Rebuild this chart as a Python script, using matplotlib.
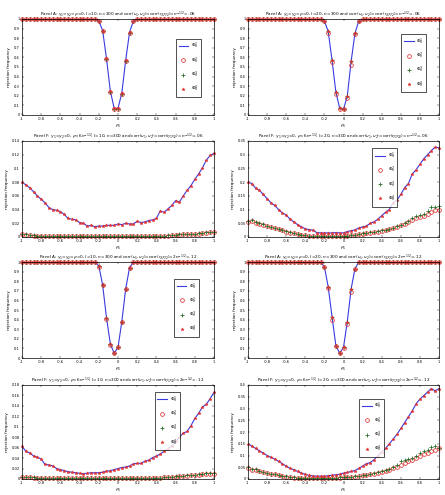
import numpy as np
import matplotlib
matplotlib.use("Agg")
import matplotlib.pyplot as plt

# grid of the x variable
rho1 = np.round(np.arange(-1, 1.0001, 0.04), 2)

# ---- Panel A data (power curves, flat at 1 away from 0) ----
a1_line = [1.0]*20 + [0.98, 0.88, 0.59, 0.25, 0.07, 0.07, 0.23, 0.57, 0.86, 0.98] + [1.0]*21
a1_circ = [1.0]*20 + [0.98, 0.87, 0.58, 0.24, 0.065, 0.065, 0.22, 0.56, 0.85, 0.98] + [1.0]*21
a2_line = [1.0]*20 + [0.98, 0.87, 0.57, 0.24, 0.07, 0.06, 0.20, 0.56, 0.85, 0.98] + [1.0]*21
a2_circ = [1.0]*20 + [0.98, 0.85, 0.55, 0.22, 0.065, 0.06, 0.18, 0.52, 0.84, 0.98] + [1.0]*21
a3_line = [1.0]*20 + [0.96, 0.76, 0.42, 0.15, 0.05, 0.11, 0.38, 0.72, 0.94, 1.0] + [1.0]*21
a3_circ = [1.0]*20 + [0.95, 0.76, 0.41, 0.14, 0.05, 0.11, 0.38, 0.72, 0.94, 1.0] + [1.0]*21
a4_line = [1.0]*20 + [0.95, 0.74, 0.43, 0.13, 0.05, 0.11, 0.38, 0.72, 0.93, 1.0] + [1.0]*21
a4_circ = [1.0]*20 + [0.95, 0.73, 0.40, 0.12, 0.05, 0.10, 0.35, 0.69, 0.93, 1.0] + [1.0]*21

# ---- Panel F data ----
f1_line = [0.080, 0.076, 0.072, 0.066, 0.060, 0.055, 0.050, 0.043, 0.040, 0.039,
           0.037, 0.033, 0.027, 0.026, 0.025, 0.021, 0.020, 0.016, 0.017, 0.015,
           0.016, 0.016, 0.017, 0.017, 0.017, 0.019, 0.018, 0.020, 0.019, 0.019,
           0.023, 0.021, 0.022, 0.024, 0.025, 0.027, 0.038, 0.036, 0.041, 0.046,
           0.053, 0.051, 0.060, 0.068, 0.075, 0.084, 0.092, 0.101, 0.112, 0.119,
           0.122]
f1_circ = [0.004, 0.003, 0.003, 0.002, 0.002, 0.002, 0.002, 0.001, 0.001, 0.001,
           0.001, 0.001, 0.001, 0.001, 0.001, 0.001, 0.001, 0.001, 0.001, 0.001,
           0.001, 0.001, 0.001, 0.001, 0.001, 0.001, 0.001, 0.001, 0.001, 0.001,
           0.001, 0.001, 0.001, 0.001, 0.001, 0.002, 0.002, 0.002, 0.002, 0.003,
           0.003, 0.003, 0.004, 0.004, 0.004, 0.005, 0.005, 0.006, 0.006, 0.007,
           0.007]
f1_plus = [0.005, 0.004, 0.003, 0.003, 0.002, 0.002, 0.002, 0.002, 0.001, 0.001,
           0.001, 0.001, 0.001, 0.001, 0.001, 0.001, 0.001, 0.001, 0.001, 0.001,
           0.001, 0.001, 0.001, 0.001, 0.001, 0.001, 0.001, 0.001, 0.001, 0.001,
           0.001, 0.001, 0.001, 0.002, 0.002, 0.002, 0.002, 0.002, 0.003, 0.003,
           0.003, 0.004, 0.004, 0.004, 0.005, 0.005, 0.006, 0.006, 0.007, 0.007,
           0.008]

f2_line = [0.200, 0.195, 0.178, 0.170, 0.155, 0.140, 0.125, 0.115, 0.100, 0.088,
           0.080, 0.065, 0.055, 0.045, 0.037, 0.030, 0.027, 0.025, 0.016, 0.015,
           0.015, 0.015, 0.015, 0.016, 0.015, 0.015, 0.020, 0.023, 0.026, 0.033,
           0.037, 0.040, 0.050, 0.055, 0.065, 0.078, 0.090, 0.100, 0.125, 0.135,
           0.155, 0.180, 0.195, 0.230, 0.245, 0.265, 0.285, 0.300, 0.315, 0.328,
           0.325]
f2_circ = [0.055, 0.060, 0.052, 0.048, 0.045, 0.040, 0.036, 0.032, 0.028, 0.024,
           0.020, 0.016, 0.013, 0.010, 0.008, 0.006, 0.005, 0.004, 0.004, 0.003,
           0.003, 0.003, 0.003, 0.003, 0.003, 0.004, 0.005, 0.006, 0.008, 0.010,
           0.012, 0.015, 0.016, 0.018, 0.020, 0.022, 0.025, 0.028, 0.032, 0.036,
           0.042, 0.048, 0.055, 0.062, 0.070, 0.072, 0.078, 0.085, 0.092, 0.100,
           0.100]
f2_plus = [0.060, 0.062, 0.055, 0.050, 0.046, 0.041, 0.037, 0.033, 0.029, 0.025,
           0.021, 0.017, 0.014, 0.011, 0.009, 0.007, 0.005, 0.005, 0.004, 0.004,
           0.003, 0.003, 0.003, 0.003, 0.004, 0.004, 0.005, 0.007, 0.009, 0.011,
           0.013, 0.016, 0.017, 0.019, 0.021, 0.024, 0.027, 0.030, 0.034, 0.039,
           0.045, 0.052, 0.060, 0.068, 0.078, 0.080, 0.085, 0.095, 0.108, 0.110,
           0.112]

f3_line = [0.063, 0.053, 0.050, 0.044, 0.042, 0.038, 0.028, 0.027, 0.025, 0.020,
           0.018, 0.016, 0.014, 0.013, 0.012, 0.011, 0.010, 0.011, 0.012, 0.012,
           0.012, 0.013, 0.015, 0.016, 0.018, 0.020, 0.022, 0.023, 0.025, 0.029,
           0.030, 0.030, 0.034, 0.036, 0.041, 0.044, 0.048, 0.053, 0.058, 0.064,
           0.072, 0.080, 0.088, 0.091, 0.102, 0.116, 0.126, 0.138, 0.143, 0.154,
           0.166]
f3_circ = [0.003, 0.003, 0.003, 0.002, 0.002, 0.002, 0.002, 0.001, 0.001, 0.001,
           0.001, 0.001, 0.001, 0.001, 0.001, 0.001, 0.001, 0.001, 0.001, 0.001,
           0.001, 0.001, 0.001, 0.001, 0.001, 0.001, 0.001, 0.001, 0.001, 0.001,
           0.001, 0.001, 0.001, 0.001, 0.001, 0.002, 0.002, 0.003, 0.003, 0.004,
           0.004, 0.005, 0.006, 0.006, 0.007, 0.008, 0.008, 0.009, 0.010, 0.010,
           0.010]
f3_plus = [0.004, 0.003, 0.003, 0.003, 0.002, 0.002, 0.002, 0.002, 0.001, 0.001,
           0.001, 0.001, 0.001, 0.001, 0.001, 0.001, 0.001, 0.001, 0.001, 0.001,
           0.001, 0.001, 0.001, 0.001, 0.001, 0.001, 0.001, 0.001, 0.001, 0.001,
           0.001, 0.001, 0.001, 0.001, 0.002, 0.002, 0.002, 0.003, 0.003, 0.004,
           0.005, 0.005, 0.006, 0.007, 0.008, 0.008, 0.009, 0.010, 0.011, 0.011,
           0.011]

f4_line = [0.150, 0.140, 0.130, 0.120, 0.110, 0.100, 0.092, 0.085, 0.075, 0.065,
           0.055, 0.045, 0.040, 0.032, 0.025, 0.020, 0.015, 0.013, 0.012, 0.012,
           0.012, 0.014, 0.016, 0.018, 0.020, 0.025, 0.028, 0.032, 0.036, 0.045,
           0.055, 0.065, 0.070, 0.082, 0.100, 0.115, 0.130, 0.150, 0.170, 0.190,
           0.215, 0.240, 0.265, 0.290, 0.320, 0.340, 0.355, 0.370, 0.385, 0.375,
           0.385]
f4_circ = [0.045, 0.040, 0.040, 0.035, 0.030, 0.025, 0.022, 0.020, 0.016, 0.013,
           0.010, 0.008, 0.006, 0.005, 0.004, 0.004, 0.004, 0.004, 0.004, 0.004,
           0.004, 0.005, 0.005, 0.006, 0.006, 0.007, 0.008, 0.009, 0.010, 0.012,
           0.015, 0.017, 0.020, 0.023, 0.026, 0.030, 0.035, 0.040, 0.045, 0.050,
           0.060, 0.070, 0.075, 0.082, 0.090, 0.100, 0.105, 0.110, 0.120, 0.125,
           0.130]
f4_plus = [0.050, 0.042, 0.041, 0.036, 0.031, 0.026, 0.023, 0.021, 0.017, 0.014,
           0.011, 0.009, 0.007, 0.006, 0.005, 0.004, 0.004, 0.004, 0.004, 0.004,
           0.005, 0.005, 0.006, 0.006, 0.007, 0.008, 0.009, 0.010, 0.011, 0.013,
           0.016, 0.018, 0.021, 0.025, 0.028, 0.033, 0.038, 0.044, 0.050, 0.058,
           0.075, 0.080, 0.085, 0.090, 0.100, 0.110, 0.120, 0.125, 0.135, 0.140,
           0.130]

labels = [r'$\Phi^1_n$', r'$\Phi^2_n$', r'$\Phi^3_n$', r'$\Phi^4_n$']

tA = r'Panel A: $\gamma_1\!=\!\gamma_2\!=\!\rho\!=\!0$, $l\!=\!%d$, $n\!=\!300$ and corr$(u_1,u_2)$=corr$(\eta_1\eta_2)\!=\!%s$'
tF = r'Panel F: $\gamma_1\!=\!\gamma_2\!=\!0$, $\rho\!=\!6n^{-1/2}$, $l\!=\!%d$, $n\!=\!300$ and corr$(u_1,u_2)$=corr$(\eta_1\eta_2)\!=\!%s$'
c06 = r'n^{-1/2}\!=\!.06'
c12 = r'2n^{-1/2}\!=\!.12'

# (title, line, circles, plus, stars, ylim, yticks, legend position or None)
panels = [
    (tA % (10, c06), a1_line, a1_circ, a1_circ, a1_line, 1.0, np.arange(0, 1.01, 0.1), (0.79, 0.82)),
    (tA % (20, c06), a2_line, a2_circ, a2_line, a2_line, 1.0, np.arange(0, 1.01, 0.1), (0.79, 0.87)),
    (tF % (10, c06), f1_line, f1_circ, f1_plus, f1_line, 0.14, np.arange(0, 0.141, 0.02), None),
    (tF % (20, c06), f2_line, f2_circ, f2_plus, f2_line, 0.35, np.arange(0, 0.351, 0.05), (0.64, 0.95)),
    (tA % (10, c12), a3_line, a3_circ, a3_line, a3_line, 1.0, np.arange(0, 1.01, 0.1), (0.78, 0.85)),
    (tA % (20, c12), a4_line, a4_circ, a4_line, a4_line, 1.0, np.arange(0, 1.01, 0.1), None),
    (tF % (10, c12), f3_line, f3_circ, f3_plus, f3_line, 0.18, np.arange(0, 0.181, 0.02), (0.68, 0.95)),
    (tF % (20, c12), f4_line, f4_circ, f4_plus, f4_line, 0.40, np.arange(0, 0.401, 0.05), (0.57, 0.88)),
]

W, H = 445.0, 495.0
cols = [(22, 214), (248, 439)]
rows = [(19, 115), (141, 237), (262, 358), (385, 479)]

plt.rcParams['font.family'] = 'DejaVu Sans'
plt.rcParams['mathtext.fontset'] = 'dejavusans'

fig = plt.figure(figsize=(W / 100, H / 100), dpi=100)

for k, (title, ln, circ, plus, star, ytop, yt, legpos) in enumerate(panels):
    r, c = divmod(k, 2)
    x0, x1 = cols[c]
    y0, y1 = rows[r]
    ax = fig.add_axes([x0 / W, 1 - y1 / H, (x1 - x0) / W, (y1 - y0) / H])
    ax.plot(rho1, ln, '-', color='#3a3ae0', lw=0.8, label=labels[0])
    ax.plot(rho1, circ, 'o', mfc='none', mec='#e03030', ms=2.7, mew=0.55,
            clip_on=False, label=labels[1])
    ax.plot(rho1, plus, '+', color='#206a20', ms=2.6, mew=0.55,
            clip_on=False, label=labels[2])
    ax.plot(rho1, star, '*', color='#e03030', ms=2.4, mew=0.3,
            clip_on=False, label=labels[3])
    ax.set_xlim(-1, 1)
    ax.set_ylim(0, ytop)
    ax.set_xticks(np.round(np.arange(-1, 1.01, 0.2), 1))
    ax.set_xticklabels(['-1', '-0.8', '-0.6', '-0.4', '-0.2', '0', '0.2', '0.4', '0.6', '0.8', '1'])
    ax.set_yticks(yt)
    ax.set_yticklabels(['%g' % v for v in np.round(yt, 3)])
    ax.tick_params(direction='in', top=True, right=True, labelsize=2.6,
                   length=1.5, width=0.3, pad=1.5)
    for s in ax.spines.values():
        s.set_linewidth(0.5)
    ax.set_title(title, fontsize=3.0, pad=2)
    ax.set_xlabel(r'$\rho_1$', fontsize=3.2, labelpad=1)
    ax.set_ylabel('rejection frequency', fontsize=3.0, labelpad=2)
    if legpos is not None:
        leg = ax.legend(loc='upper left', bbox_to_anchor=legpos, fontsize=3.2,
                        frameon=True, fancybox=False, handlelength=2.2,
                        borderpad=0.6, labelspacing=0.9, handletextpad=0.6)
        leg.get_frame().set_edgecolor('black')
        leg.get_frame().set_linewidth(0.6)

fig.savefig('out.png', dpi=100)
